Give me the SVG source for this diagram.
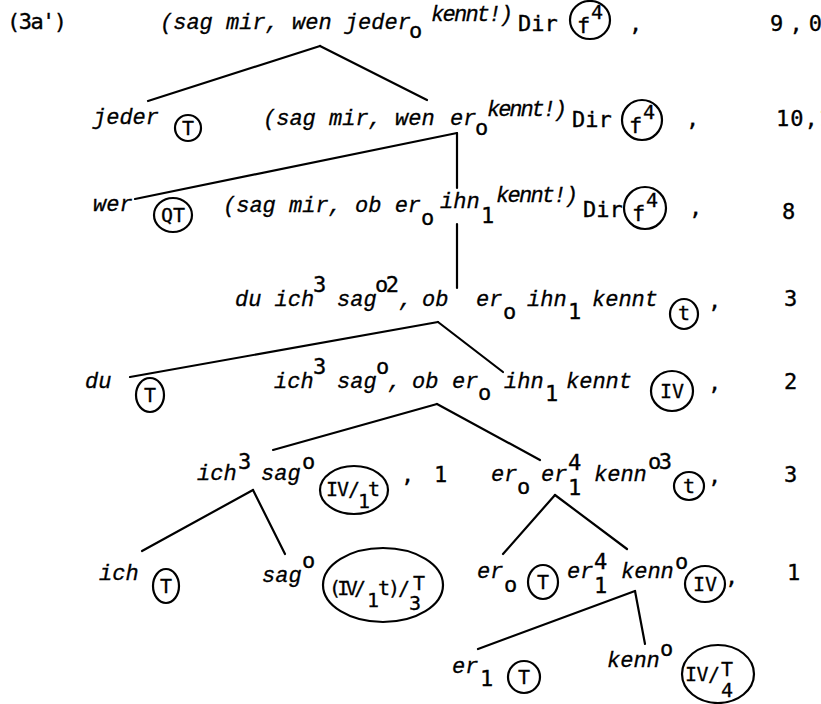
<svg xmlns="http://www.w3.org/2000/svg" width="821" height="704" viewBox="0 0 821 704">
<style>
.i{font-family:"Liberation Mono",monospace;font-style:italic;font-size:22px;fill:#000;stroke:#000;stroke-width:0.3}
.m{font-family:"DejaVu Sans Mono",monospace;font-size:22px;fill:#000;stroke:#000;stroke-width:0.35}
.c{font-family:"DejaVu Sans Mono",monospace;font-size:20px;fill:#000;stroke:#000;stroke-width:0.3}
.e{fill:none;stroke:#000;stroke-width:2.2}
.l{stroke:#000;stroke-width:2.2;stroke-linecap:round;fill:none}
</style>
<rect width="821" height="704" fill="#fff"/>
<text class="m" x="7" y="29" textLength="60">(3a')</text>

<g id="connectors">
<line class="l" x1="320" y1="46" x2="148" y2="101"/>
<line class="l" x1="320" y1="46" x2="427" y2="100"/>
<line class="l" x1="457" y1="133" x2="135" y2="199"/>
<line class="l" x1="457" y1="133" x2="457" y2="188"/>
<line class="l" x1="457" y1="224" x2="457" y2="288"/>
<line class="l" x1="438" y1="322" x2="130" y2="377"/>
<line class="l" x1="438" y1="322" x2="503" y2="372"/>
<line class="l" x1="437" y1="404" x2="273" y2="450"/>
<line class="l" x1="437" y1="404" x2="540" y2="460"/>
<line class="l" x1="253" y1="490" x2="142" y2="551"/>
<line class="l" x1="253" y1="490" x2="285" y2="554"/>
<line class="l" x1="555" y1="495" x2="503" y2="554"/>
<line class="l" x1="555" y1="495" x2="627" y2="549"/>
<line class="l" x1="635" y1="591" x2="478" y2="649"/>
<line class="l" x1="635" y1="591" x2="645" y2="644"/>
</g>

<g id="n1">
<text class="i" x="160" y="29">(sag mir, wen jeder</text>
<text class="m" x="409" y="38">o</text>
<text class="i" x="431" y="21" textLength="82">kennt!)</text>
<text class="m" x="518" y="31">Dir</text>
<ellipse class="e" cx="590" cy="20" rx="20" ry="19"/>
<text class="m" x="577" y="33">f</text><text class="c" x="591" y="19">4</text>
<text class="m" x="629" y="31">,</text>
<text class="m" x="770" y="31" textLength="52">9,0</text>
</g>

<g id="n2a">
<text class="i" x="93" y="124">jeder</text>
<ellipse class="e" cx="188" cy="128" rx="13" ry="13"/>
<text class="c" x="188" y="135" text-anchor="middle">T</text>
</g>

<g id="n2b">
<text class="i" x="263" y="125">(sag mir, wen</text>
<text class="i" x="450" y="125">er</text>
<text class="m" x="475" y="135">o</text>
<text class="i" x="487" y="116" textLength="80">kennt!)</text>
<text class="m" x="572" y="127">Dir</text>
<ellipse class="e" cx="642" cy="120" rx="20" ry="20"/>
<text class="m" x="629" y="133">f</text><text class="c" x="643" y="119">4</text>
<text class="m" x="686" y="126">,</text>
<text class="m" x="776" y="126" textLength="56">10,1</text>
</g>

<g id="n3a">
<text class="i" x="93" y="211">wer</text>
<ellipse class="e" cx="173" cy="215" rx="19" ry="17"/>
<text class="c" x="173" y="222" text-anchor="middle">QT</text>
</g>

<g id="n3b">
<text class="i" x="223" y="212">(sag mir, ob er</text>
<text class="m" x="421" y="225">o</text>
<text class="i" x="440" y="208">ihn</text>
<text class="m" x="481" y="223">1</text>
<text class="i" x="496" y="202" textLength="82">kennt!)</text>
<text class="m" x="583" y="217">Dir</text>
<ellipse class="e" cx="645" cy="208" rx="21" ry="21"/>
<text class="m" x="632" y="221">f</text><text class="c" x="646" y="207">4</text>
<text class="m" x="689" y="215">,</text>
<text class="m" x="782" y="219">8</text>
</g>

<g id="n4">
<text class="i" x="235" y="306">du ich</text>
<text class="m" x="313" y="292">3</text>
<text class="i" x="337" y="306">sag</text>
<text class="m" x="375" y="292" textLength="24">o2</text>
<text class="i" x="399" y="306">,</text>
<text class="i" x="422" y="306">ob</text>
<text class="i" x="476" y="306">er</text>
<text class="m" x="503" y="319">o</text>
<text class="i" x="527" y="306">ihn</text>
<text class="m" x="568" y="319">1</text>
<text class="i" x="592" y="306">kennt</text>
<ellipse class="e" cx="684" cy="314" rx="14" ry="15"/>
<text class="c" x="684" y="320" text-anchor="middle">t</text>
<text class="m" x="708" y="308">,</text>
<text class="m" x="784" y="306">3</text>
</g>

<g id="n5a">
<text class="i" x="85" y="388">du</text>
<ellipse class="e" cx="150" cy="395" rx="14" ry="17"/>
<text class="c" x="150" y="402" text-anchor="middle">T</text>
</g>

<g id="n5b">
<text class="i" x="274" y="388">ich</text>
<text class="m" x="313" y="374">3</text>
<text class="i" x="337" y="388">sag</text>
<text class="m" x="376" y="374">o</text>
<text class="i" x="388" y="388">,</text>
<text class="i" x="412" y="388">ob</text>
<text class="i" x="452" y="388">er</text>
<text class="m" x="478" y="400">o</text>
<text class="i" x="504" y="388">ihn</text>
<text class="m" x="545" y="401">1</text>
<text class="i" x="566" y="388">kennt</text>
<ellipse class="e" cx="672" cy="391" rx="21" ry="20"/>
<text class="c" x="672" y="398" text-anchor="middle">IV</text>
<text class="m" x="708" y="390">,</text>
<text class="m" x="784" y="389">2</text>
</g>

<g id="n6a">
<text class="i" x="197" y="480">ich</text>
<text class="m" x="238" y="469">3</text>
<text class="i" x="261" y="480">sag</text>
<text class="m" x="302" y="469">o</text>
<ellipse class="e" cx="354" cy="490" rx="34" ry="24"/>
<text class="c" x="326" y="496" textLength="34">IV/</text>
<text class="c" x="358" y="508">1</text>
<text class="c" x="368" y="496">t</text>
<text class="m" x="401" y="482">,</text>
<text class="m" x="434" y="482">1</text>
</g>

<g id="n6b">
<text class="i" x="491" y="481">er</text>
<text class="m" x="517" y="494">o</text>
<text class="i" x="541" y="481">er</text>
<text class="m" x="568" y="470">4</text>
<text class="m" x="568" y="495">1</text>
<text class="i" x="594" y="481">kenn</text>
<text class="m" x="648" y="469" textLength="24">o3</text>
<ellipse class="e" cx="689" cy="486" rx="15" ry="14"/>
<text class="c" x="689" y="493" text-anchor="middle">t</text>
<text class="m" x="708" y="483">,</text>
<text class="m" x="784" y="482">3</text>
</g>

<g id="n7a">
<text class="i" x="99" y="580">ich</text>
<ellipse class="e" cx="166" cy="586" rx="13" ry="17"/>
<text class="c" x="166" y="593" text-anchor="middle">T</text>
</g>

<g id="n7b">
<text class="i" x="262" y="582">sag</text>
<text class="m" x="302" y="568">o</text>
<ellipse class="e" cx="383" cy="585" rx="60" ry="37"/>
<text class="c" x="329" y="595" textLength="37">(IV/</text>
<text class="c" x="367" y="607">1</text>
<text class="c" x="378" y="595" textLength="32">t)/</text>
<text class="c" x="409" y="610">3</text>
<text class="c" x="413" y="590">T</text>
</g>

<g id="n7c">
<text class="i" x="477" y="578">er</text>
<text class="m" x="504" y="592">o</text>
<ellipse class="e" cx="543" cy="582" rx="15" ry="17"/>
<text class="c" x="543" y="589" text-anchor="middle">T</text>
</g>

<g id="n7d">
<text class="i" x="567" y="578">er</text>
<text class="m" x="594" y="569">4</text>
<text class="m" x="594" y="593">1</text>
<text class="i" x="621" y="578">kenn</text>
<text class="m" x="675" y="569">o</text>
<ellipse class="e" cx="705" cy="584" rx="20" ry="18"/>
<text class="c" x="705" y="591" text-anchor="middle">IV</text>
<text class="m" x="725" y="584">,</text>
<text class="m" x="787" y="580">1</text>
</g>

<g id="n8a">
<text class="i" x="452" y="673">er</text>
<text class="m" x="480" y="686">1</text>
<ellipse class="e" cx="524" cy="677" rx="16" ry="16"/>
<text class="c" x="524" y="684" text-anchor="middle">T</text>
</g>

<g id="n8b">
<text class="i" x="607" y="667">kenn</text>
<text class="m" x="660" y="656">o</text>
<ellipse class="e" cx="718" cy="674" rx="36" ry="29"/>
<text class="c" x="685" y="681" textLength="35">IV/</text>
<text class="c" x="721" y="676">T</text>
<text class="c" x="721" y="697">4</text>
</g>
</svg>
